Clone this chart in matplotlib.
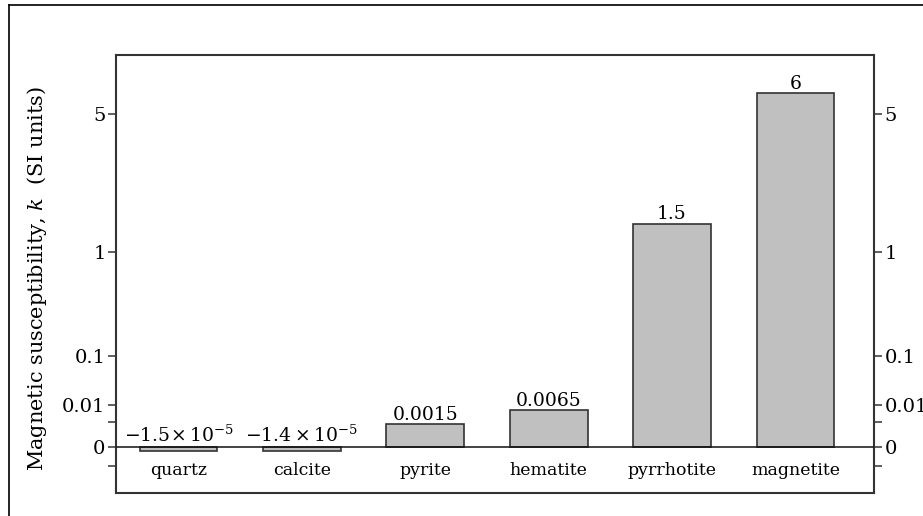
import matplotlib
matplotlib.use("Agg")
import matplotlib.pyplot as plt
from matplotlib.lines import Line2D
import numpy as np

minerals = ['quartz', 'calcite', 'pyrite', 'hematite', 'pyrrhotite', 'magnetite']
k_values = [-1.5e-5, -1.4e-5, 0.0015, 0.0065, 1.5, 6]
value_labels = [r'$-1.5\!\times 10^{-5}$', r'$-1.4\times 10^{-5}$', '0.0015', '0.0065', '1.5', '6']
major_ticks = [0, 0.01, 0.1, 1, 5]
major_labels = ['0', '0.01', '0.1', '1', '5']
minor_ticks = [-0.001, 0.002]

plt.rcParams['font.family'] = ['DejaVu Serif']
plt.rcParams['mathtext.fontset'] = 'dejavuserif'
fs = 12.5      # category names
fs_num = 14    # numbers
edge = '#333333'

fig = plt.figure(figsize=(9.23, 5.16), dpi=100)
ax = fig.add_axes([116 / 923, 23 / 516, 758 / 923, 438 / 516])

# cube-root axis, stretched near zero
ax.set_yscale('function', functions=(np.cbrt, lambda v: v ** 3))

x = np.arange(len(minerals))
ax.bar(x, k_values, width=0.63, color='#c0c0c0', edgecolor=edge, linewidth=1.2, zorder=2)
ax.axhline(0, color='#111111', linewidth=1.1, zorder=3)

ax.set_xlim(-0.506, 5.636)
ax.set_ylim(-0.0135, 8.17)

for xi, v, lab in zip(x, k_values, value_labels):
    ax.annotate(lab, (xi, max(v, 0)), xytext=(0, 0.5), textcoords='offset points',
                ha='center', va='bottom', fontsize=13.5)

for xi, name in zip(x, minerals):
    ax.text(xi, 0.0525, name, transform=ax.get_xaxis_transform(),
            ha='center', va='center', fontsize=fs)

ax.set_xticks([])
ax.set_yticks(major_ticks)
ax.set_yticklabels(major_labels)
ax.set_yticks(minor_ticks, minor=True)
ax.yaxis.set_minor_formatter(matplotlib.ticker.NullFormatter())
ax.tick_params(axis='y', which='both', direction='out', length=6, width=1.1,
               color=edge, labelsize=fs_num, pad=1.5, left=True, right=True,
               labelleft=True, labelright=True)

for s in ax.spines.values():
    s.set_color(edge)
    s.set_linewidth(1.5)

ax.set_ylabel(r'Magnetic susceptibility, $k$  (SI units)', fontsize=15)
ax.yaxis.set_label_coords(-0.089, 0.49)

# outer frame (left and top edges only show)
fig.add_artist(Line2D([8.5 / 923, 8.5 / 923], [-0.1, 1 - 4.5 / 516], transform=fig.transFigure,
                      color='black', linewidth=1.2))
fig.add_artist(Line2D([8.5 / 923, 1.1], [1 - 4.5 / 516, 1 - 4.5 / 516], transform=fig.transFigure,
                      color='black', linewidth=1.2))

fig.savefig('out.png', dpi=100)
